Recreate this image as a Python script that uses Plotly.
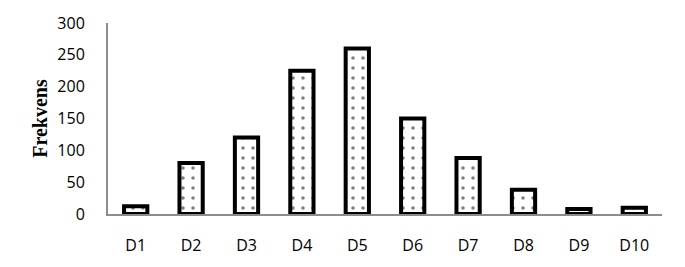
import plotly.graph_objects as go

categories = ["D1", "D2", "D3", "D4", "D5", "D6", "D7", "D8", "D9", "D10"]
frequencies = [12, 80, 120, 225, 260, 150, 88, 38, 8, 10]
y_ticks = [0, 50, 100, 150, 200, 250, 300]

fig = go.Figure(go.Bar(
    x=categories, y=frequencies,
    width=0.42,
    marker=dict(
        color="white",
        line=dict(color="black", width=4),
        pattern=dict(shape=".", fgcolor="black", bgcolor="white", size=10, solidity=0.1),
    ),
))

fig.update_layout(
    width=685, height=267,
    margin=dict(l=108, r=23, t=23, b=53),
    plot_bgcolor="white", paper_bgcolor="white",
    showlegend=False,
    font=dict(family="Open Sans", size=16, color="black"),
    xaxis=dict(
        showline=True, linecolor="#8c8c8c", linewidth=2,
        showgrid=False, ticks="", ticklabelstandoff=16,
        tickfont=dict(family="Open Sans", size=16),
    ),
    yaxis=dict(
        range=[0, 300], tickvals=y_ticks,
        showline=True, linecolor="#8c8c8c", linewidth=2,
        showgrid=False, zeroline=False, ticks="", ticklabelstandoff=18,
        tickfont=dict(family="Open Sans", size=16),
        title=dict(text="<b>Frekvens</b>", font=dict(family="Liberation Serif", size=20), standoff=4),
    ),
)

fig.write_html("out.html")
